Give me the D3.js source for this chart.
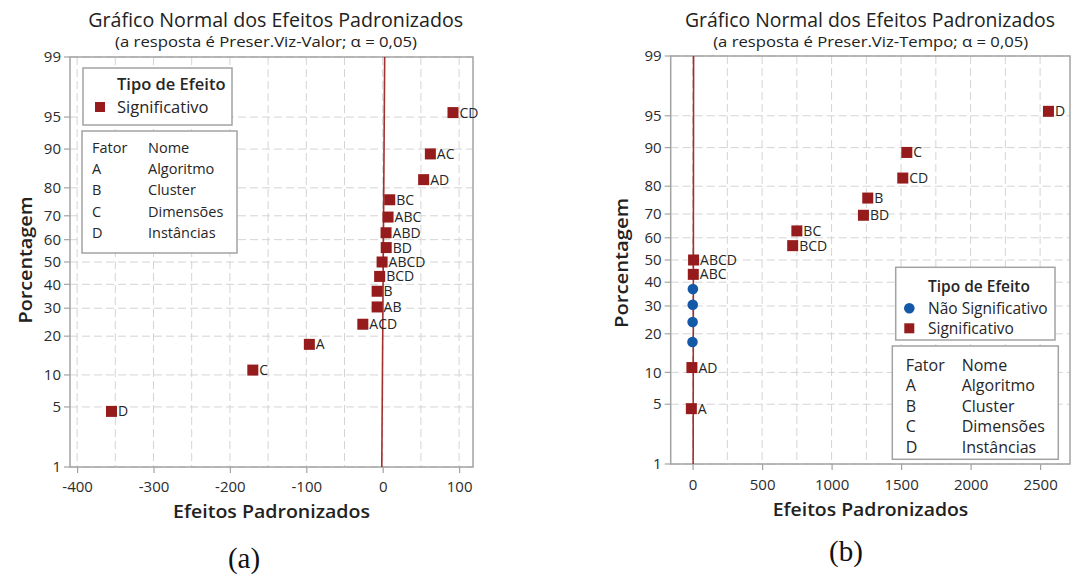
<!DOCTYPE html>
<html><head><meta charset="utf-8">
<script src="https://cdn.jsdelivr.net/npm/d3@7"></script>
<style>body{margin:0;background:#fff} svg{display:block} text{font-family:"Open Sans",sans-serif;fill:#262626;font-weight:500}</style>
</head><body><svg id="c" width="1077" height="581"></svg>
<script>
// ---------- data ----------
const yTickValues = [1, 5, 10, 20, 30, 40, 50, 60, 70, 80, 90, 95, 99];
const factorCodes = ["A", "B", "C", "D"];
const factorNames = ["Algoritmo", "Cluster", "Dimensões", "Instâncias"];
const effectTypes = ["Não Significativo", "Significativo"];
const mainTitle = "Gráfico Normal dos Efeitos Padronizados";
const xAxisTitle = "Efeitos Padronizados";
const yAxisTitle = "Porcentagem";

const leftSubtitle = "(a resposta é Preser.Viz-Valor; α = 0,05)";
const leftTerms = ["D", "C", "A", "ACD", "AB", "B", "BCD", "ABCD", "BD", "ABD", "ABC", "BC", "AD", "AC", "CD"];
const leftEffects = [-355, -170, -96, -26, -7.3, -7.3, -4, -0.8, 4.6, 4.4, 7, 9.2, 53.6, 62.4, 92];
const leftPercents = [4.5, 11.0, 17.5, 24.0, 30.5, 37.0, 43.5, 50.0, 56.5, 63.0, 69.5, 76.0, 82.5, 89.0, 95.5];
const leftSignificant = [1, 1, 1, 1, 1, 1, 1, 1, 1, 1, 1, 1, 1, 1, 1];
const leftXTicks = [-400, -300, -200, -100, 0, 100];
const leftFitX = [-1.2, 2.6];
const leftFitP = [1, 99];

const rightSubtitle = "(a resposta é Preser.Viz-Tempo; α = 0,05)";
const rightTerms = ["A", "AD", "AB", "AC", "ACD", "ABD", "ABC", "ABCD", "BCD", "BC", "BD", "B", "CD", "C", "D"];
const rightEffects = [-9, -5, -1, 0, 1, 2, 5, 7, 720, 750, 1229, 1260, 1512, 1541, 2560];
const rightPercents = [4.5, 11.0, 17.5, 24.0, 30.5, 37.0, 43.5, 50.0, 56.5, 63.0, 69.5, 76.0, 82.5, 89.0, 95.5];
const rightSignificant = [1, 1, 0, 0, 0, 0, 1, 1, 1, 1, 1, 1, 1, 1, 1];
const rightXTicks = [0, 500, 1000, 1500, 2000, 2500];
const rightFitX = [4, 7];
const rightFitP = [1, 99];

// ---------- helpers ----------
function probit(p) {
  const a=[-3.969683028665376e+01,2.209460984245205e+02,-2.759285104469687e+02,1.383577518672690e+02,-3.066479806614716e+01,2.506628277459239e+00];
  const b=[-5.447609879822406e+01,1.615858368580409e+02,-1.556989798598866e+02,6.680131188771972e+01,-1.328068155288572e+01];
  const c=[-7.784894002430293e-03,-3.223964580411365e-01,-2.400758277161838e+00,-2.549732539343734e+00,4.374664141464968e+00,2.938163982698783e+00];
  const d=[7.784695709041462e-03,3.224671290700398e-01,2.445134137142996e+00,3.754408661907416e+00];
  const pl=0.02425, ph=1-pl; let q, r;
  if (p < pl) { q=Math.sqrt(-2*Math.log(p)); return (((((c[0]*q+c[1])*q+c[2])*q+c[3])*q+c[4])*q+c[5])/((((d[0]*q+d[1])*q+d[2])*q+d[3])*q+1); }
  if (p <= ph) { q=p-0.5; r=q*q; return (((((a[0]*r+a[1])*r+a[2])*r+a[3])*r+a[4])*r+a[5])*q/(((((b[0]*r+b[1])*r+b[2])*r+b[3])*r+b[4])*r+1); }
  q=Math.sqrt(-2*Math.log(1-p)); return -(((((c[0]*q+c[1])*q+c[2])*q+c[3])*q+c[4])*q+c[5])/((((d[0]*q+d[1])*q+d[2])*q+d[3])*q+1);
}

const RED = "#951b1c", BLUE = "#1458a8", FRAME = "#a3a3a3", GRID = "#d4d4d4";
const svg = d3.select("#c");

function drawChart(cfg) {
  const g = svg.append("g");
  const P = cfg.plot;
  const x = d3.scaleLinear().domain(cfg.xDomain).range([P.x0, P.x1]);
  const zScale = d3.scaleLinear().domain([probit(0.01), probit(0.99)]).range([P.y1, P.y0]);
  const y = v => zScale(probit(v / 100));

  // grid
  g.append("g").selectAll("line").data(cfg.xGrid).join("line")
    .attr("x1", d => x(d)).attr("x2", d => x(d)).attr("y1", P.y0).attr("y2", P.y1)
    .attr("stroke", GRID).attr("stroke-width", 1).attr("stroke-dasharray", "8,4");
  g.append("g").selectAll("line").data(yTickValues).join("line")
    .attr("x1", P.x0).attr("x2", P.x1).attr("y1", d => y(d)).attr("y2", d => y(d))
    .attr("stroke", GRID).attr("stroke-width", 1).attr("stroke-dasharray", "8,4");

  // frame
  g.append("rect").attr("x", P.x0).attr("y", P.y0).attr("width", P.x1 - P.x0).attr("height", P.y1 - P.y0)
    .attr("fill", "none").attr("stroke", FRAME).attr("stroke-width", 1.5);

  // axes
  const xAxis = d3.axisBottom(x).tickValues(cfg.xTicks).tickSize(6).tickPadding(4).tickFormat(d => String(d));
  const xg = g.append("g").attr("transform", `translate(0,${P.y1})`).call(xAxis);
  xg.select(".domain").remove();
  xg.selectAll("line").attr("stroke", FRAME).attr("stroke-width", 1.2);
  xg.selectAll("text").style("font-size", "15px").style("fill", "#2b2b2b")
    .attr("dy", null).attr("y", cfg.xTickBaseline - P.y1);

  const yg = g.append("g");
  yg.selectAll("line").data(yTickValues).join("line")
    .attr("x1", P.x0 - 6).attr("x2", P.x0).attr("y1", d => y(d)).attr("y2", d => y(d))
    .attr("stroke", FRAME).attr("stroke-width", 1.2);
  yg.selectAll("text").data(yTickValues).join("text")
    .attr("x", P.x0 - 9).attr("y", d => y(d)).attr("dy", "0.35em")
    .attr("text-anchor", "end").style("font-size", "15px").style("fill", "#2b2b2b").text(d => d);

  // fit line
  g.append("line").attr("x1", x(cfg.fitX[0])).attr("y1", y(cfg.fitP[0]))
    .attr("x2", x(cfg.fitX[1])).attr("y2", y(cfg.fitP[1]))
    .attr("stroke", "#a2302f").attr("stroke-width", 1.6);

  // points
  const pts = cfg.terms.map((t, i) => ({ t, e: cfg.effects[i], p: cfg.percents[i], s: cfg.sig[i] }));
  g.append("g").selectAll("rect").data(pts.filter(d => d.s)).join("rect")
    .attr("x", d => x(d.e) - 5.5).attr("y", d => y(d.p) - 5.5).attr("width", 11).attr("height", 11).attr("fill", RED);
  g.append("g").selectAll("circle").data(pts.filter(d => !d.s)).join("circle")
    .attr("cx", d => x(d.e)).attr("cy", d => y(d.p)).attr("r", 5.3).attr("fill", BLUE);
  g.append("g").selectAll("text").data(pts.filter(d => d.s)).join("text")
    .attr("x", d => x(d.e) + 6.5).attr("y", d => y(d.p)).attr("dy", "0.36em")
    .style("font-size", "14px").style("font-weight", 400).text(d => d.t);

  // titles
  g.append("text").attr("x", cfg.title.cx).attr("y", cfg.title.y).attr("text-anchor", "middle")
    .style("font-size", "20px").attr("textLength", cfg.title.w).attr("lengthAdjust", "spacingAndGlyphs")
    .style("fill", "#222").text(mainTitle);
  g.append("text").attr("x", cfg.sub.cx).attr("y", cfg.sub.y).attr("text-anchor", "middle")
    .style("font-size", "15px").attr("textLength", cfg.sub.w).attr("lengthAdjust", "spacingAndGlyphs")
    .style("fill", "#222").text(cfg.subtitle);
  g.append("text").attr("x", cfg.xlab.cx).attr("y", cfg.xlab.y).attr("text-anchor", "middle")
    .style("font-size", "18px").style("font-weight", 600).attr("textLength", cfg.xlab.w).attr("lengthAdjust", "spacingAndGlyphs")
    .style("fill", "#222").text(xAxisTitle);
  g.append("text").attr("transform", `translate(${cfg.ylab.x},${cfg.ylab.cy}) rotate(-90)`)
    .attr("text-anchor", "middle").style("font-size", "18px").style("font-weight", 600)
    .attr("textLength", cfg.ylab.w).attr("lengthAdjust", "spacingAndGlyphs")
    .style("fill", "#222").text(yAxisTitle);
  g.append("text").attr("x", cfg.caption.cx).attr("y", cfg.caption.y).attr("text-anchor", "middle")
    .style("font-family", "'Liberation Serif', serif").style("font-weight", 400).style("font-size", "29px")
    .style("fill", "#111").text(cfg.caption.text);

  // legend 1 (effect type)
  const L = cfg.leg1;
  const lg = g.append("g");
  lg.append("rect").attr("x", L.x).attr("y", L.y).attr("width", L.w).attr("height", L.h)
    .attr("fill", "#fff").attr("stroke", FRAME).attr("stroke-width", 1.5);
  lg.append("text").attr("x", L.tx).attr("y", L.titleY).style("font-size", L.fs + "px").style("font-weight", 600).text("Tipo de Efeito");
  L.types.forEach((tp, i) => {
    const yy = L.rowY[i];
    if (tp === effectTypes[0]) lg.append("circle").attr("cx", L.mx).attr("cy", yy).attr("r", 5.3).attr("fill", BLUE);
    else lg.append("rect").attr("x", L.mx - 5).attr("y", yy - 5).attr("width", 10).attr("height", 10).attr("fill", RED);
    lg.append("text").attr("x", L.tx).attr("y", yy).attr("dy", "0.36em").style("font-size", L.fs + "px").text(tp);
  });

  // legend 2 (factors)
  const F = cfg.leg2;
  const fg = g.append("g");
  fg.append("rect").attr("x", F.x).attr("y", F.y).attr("width", F.w).attr("height", F.h)
    .attr("fill", "#fff").attr("stroke", FRAME).attr("stroke-width", 1.5);
  const rows = [["Fator", "Nome"]].concat(factorCodes.map((c, i) => [c, factorNames[i]]));
  rows.forEach((r, i) => {
    fg.append("text").attr("x", F.c1).attr("y", F.rowY[i]).attr("dy", "0.36em").style("font-size", F.fs + "px").text(r[0]);
    fg.append("text").attr("x", F.c2).attr("y", F.rowY[i]).attr("dy", "0.36em").style("font-size", F.fs + "px").text(r[1]);
  });
}

drawChart({
  plot: { x0: 70, x1: 473, y0: 57, y1: 467 },
  xDomain: [-409.3, 118.2], xTicks: leftXTicks, xGrid: d3.range(-400, 101, 50), xTickBaseline: 492,
  terms: leftTerms, effects: leftEffects, percents: leftPercents, sig: leftSignificant,
  fitX: leftFitX, fitP: leftFitP, subtitle: leftSubtitle,
  title: { cx: 275.7, y: 26.5, w: 375 }, sub: { cx: 266, y: 46.5, w: 302 },
  xlab: { cx: 271.5, y: 518.3, w: 197 }, ylab: { x: 32, cy: 260, w: 127 },
  caption: { cx: 244, y: 568, text: "(a)" },
  leg1: { x: 83, y: 68, w: 149, h: 57, tx: 117, titleY: 90, mx: 100, fs: 16.5, types: [effectTypes[1]], rowY: [107] },
  leg2: { x: 82, y: 131, w: 155, h: 122, c1: 92, c2: 148, fs: 14.5, rowY: [148, 169, 190, 212, 233] }
});

drawChart({
  plot: { x0: 670.7, x1: 1070, y0: 56, y1: 464 },
  xDomain: [-157.6, 2715], xTicks: rightXTicks, xGrid: d3.range(0, 2501, 250), xTickBaseline: 490,
  terms: rightTerms, effects: rightEffects, percents: rightPercents, sig: rightSignificant,
  fitX: rightFitX, fitP: rightFitP, subtitle: rightSubtitle,
  title: { cx: 870, y: 26.5, w: 370 }, sub: { cx: 870.7, y: 46.5, w: 315 },
  xlab: { cx: 870.5, y: 515.7, w: 195.6 }, ylab: { x: 628, cy: 263, w: 130 },
  caption: { cx: 846, y: 561, text: "(b)" },
  leg1: { x: 895.7, y: 267.3, w: 159.3, h: 72.7, tx: 928, titleY: 291.5, mx: 909.3, fs: 15.5, types: effectTypes, rowY: [308.3, 328.3] },
  leg2: { x: 892.3, y: 346, w: 166, h: 113.3, c1: 905.7, c2: 961.7, fs: 16, rowY: [365, 385.7, 406, 426.7, 447.3] }
});
</script></body></html>
